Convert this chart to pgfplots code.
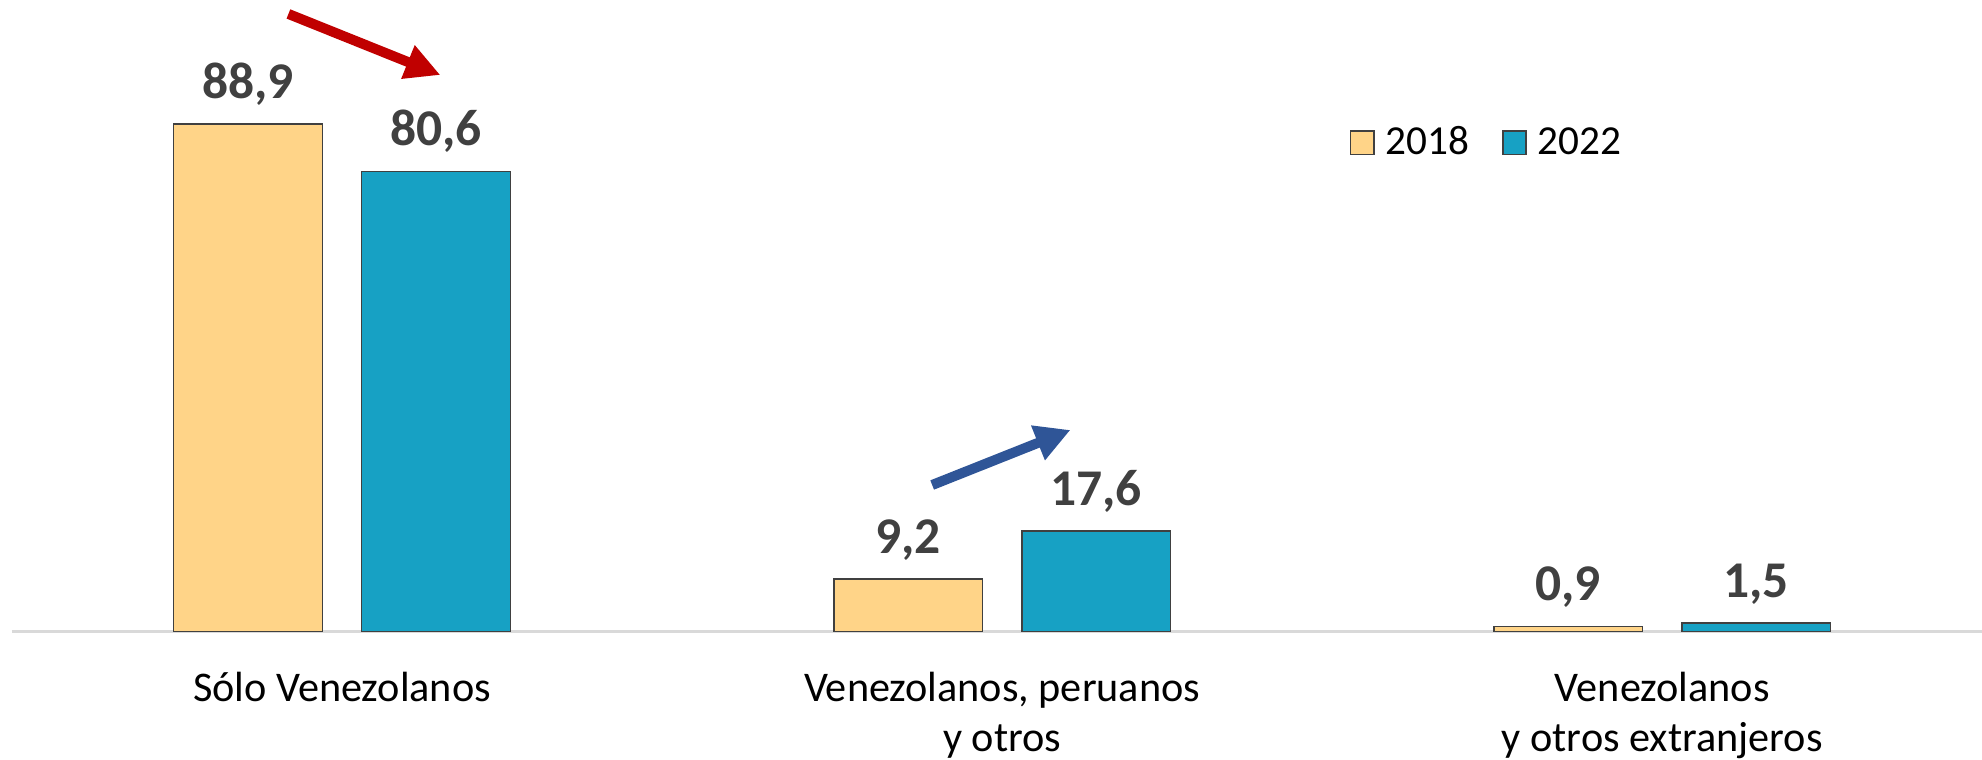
\documentclass[border=0pt]{standalone}
\usepackage{pgfplots}
\pgfplotsset{compat=1.18}
\usepackage{fontspec}
\setmainfont{Carlito}
\usetikzlibrary{arrows.meta}
\definecolor{c2018}{HTML}{FFD488}
\definecolor{c2022}{HTML}{17A1C4}
\definecolor{valgray}{HTML}{404040}
\definecolor{axisgray}{HTML}{D9D9D9}
\definecolor{arrowred}{HTML}{C00000}
\definecolor{arrowblue}{HTML}{2F5597}

\begin{document}
\begin{tikzpicture}
\path[use as bounding box] (-4.8pt,-51.4pt) rectangle (788pt,252.6pt);
\begin{axis}[
  at={(0,0)}, anchor=south west,
  scale only axis,
  width=792.12pt, height=252.6pt,
  xmin=-0.5, xmax=2.5, ymin=0, ymax=110.65,
  hide y axis,
  axis x line*=bottom,
  x axis line style={draw=axisgray, line width=1pt},
  xtick={0,1,2},
  xticklabels={{\strut Sólo Venezolanos},{\strut Venezolanos, peruanos\\y otros},{\strut Venezolanos\\y otros extranjeros}},
  major tick length=0pt,
  xticklabel style={anchor=north, align=center, inner sep=0pt, font=\fontsize{16.9}{20.3}\selectfont, yshift=-13.4pt},
  ybar, bar width=0.2253,
  nodes near coords,
  every node near coord/.append style={font=\fontsize{20.6}{24}\selectfont\bfseries, text=valgray, anchor=base, yshift=10.3pt, inner sep=0pt},
  /pgf/number format/use comma,
  /pgf/number format/fixed,
  /pgf/number format/fixed zerofill,
  /pgf/number format/precision=1,
  /pgf/number format/assume math mode=true,
  legend columns=2,
  legend style={draw=none, fill=none, at={(axis cs:1.526,85.65)}, anchor=west,
    font=\fontsize{16.5}{20}\selectfont, inner sep=0pt, nodes={inner sep=0pt},
    /tikz/every even column/.append style={column sep=13.2pt}},
  legend image code/.code={\draw[#1, line width=0.6pt] (0pt,-4.65pt) rectangle (9.3pt,4.65pt); \path (13.6pt,0pt);},
]
\addplot[fill=c2018, draw=valgray, line width=0.6pt, bar shift=-0.1424] coordinates {(0,88.9) (1,9.2) (2,0.9)};
\addplot[fill=c2022, draw=valgray, line width=0.6pt, bar shift=0.1424] coordinates {(0,80.6) (1,17.6) (2,1.5)};
\legend{2018,2022}
\draw[arrowred, line width=4pt, -{Triangle[length=14pt,width=13.5pt]}] (axis cs:-0.0812,108.2) -- (axis cs:0.149,97.5);
\draw[arrowblue, line width=4pt, -{Triangle[length=14pt,width=14pt]}] (axis cs:0.894,25.67) -- (axis cs:1.1035,35.31);
\end{axis}
\end{tikzpicture}
\end{document}
